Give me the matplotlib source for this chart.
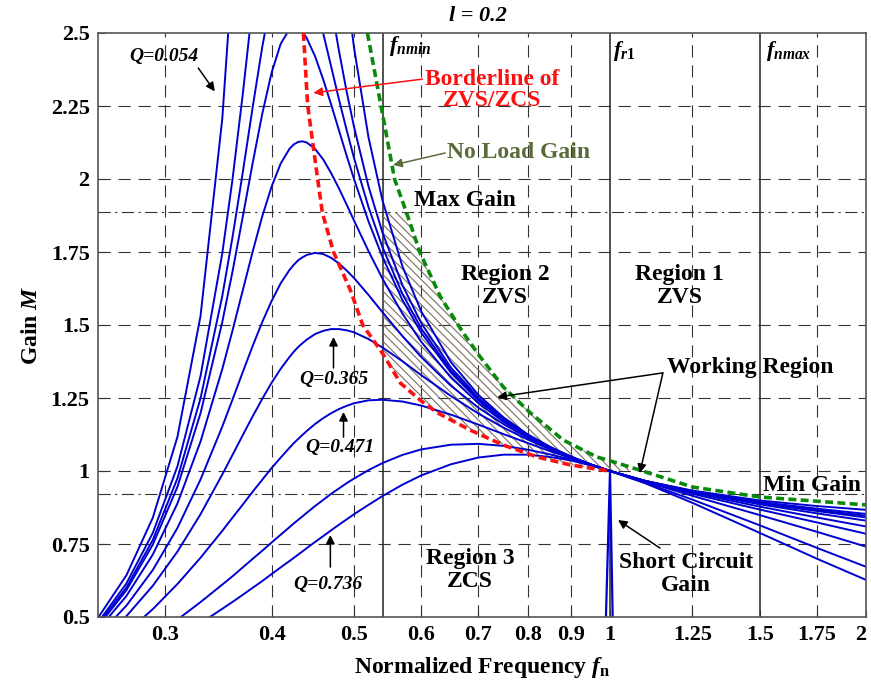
import matplotlib
matplotlib.use("Agg")
import matplotlib.pyplot as plt
from matplotlib.patches import Polygon

plt.rcParams["font.family"] = ["Liberation Serif", "DejaVu Serif"]
plt.rcParams["font.weight"] = "bold"
plt.rcParams["mathtext.fontset"] = "custom"
plt.rcParams["mathtext.rm"] = "Liberation Serif:bold"
plt.rcParams["mathtext.it"] = "Liberation Serif:italic:bold"
plt.rcParams["mathtext.bf"] = "Liberation Serif:bold"
plt.rcParams["hatch.linewidth"] = 0.8

# normalized frequency grid the gain curves were read at
fn = [0.25, 0.27, 0.29, 0.31, 0.33, 0.35, 0.36, 0.37, 0.38, 0.39, 0.40, 0.41, 0.42, 0.425,
      0.43, 0.435, 0.44, 0.45, 0.46, 0.47, 0.48, 0.49, 0.50, 0.52, 0.54, 0.57, 0.60,
      0.65, 0.70, 0.75, 0.80, 0.85, 0.90, 0.95, 1.00, 1.10, 1.25, 1.50, 1.75, 2.00]

q_values = [0.054, 0.15, 0.18, 0.2, 0.24, 0.3, 0.365, 0.471, 0.63, 0.736]

gain_q054 = [0.497, 0.643, 0.840, 1.117, 1.531, 2.206, 2.723, 3.451, 4.52, 6.09, 8.07, 9.09, 8.01, 7.17,
             6.39, 5.71, 5.15, 4.294, 3.689, 3.248, 2.915, 2.657, 2.450, 2.143, 1.927, 1.701, 1.546,
             1.373, 1.261, 1.183, 1.126, 1.083, 1.049, 1.022, 1.000, 0.966, 0.933, 0.899, 0.880, 0.867]
gain_q15 = [0.481, 0.615, 0.788, 1.016, 1.325, 1.745, 2.003, 2.291, 2.597, 2.892, 3.136, 3.284, 3.317, 3.294,
            3.248, 3.183, 3.108, 2.939, 2.763, 2.594, 2.440, 2.301, 2.179, 1.975, 1.817, 1.637, 1.506,
            1.354, 1.251, 1.178, 1.123, 1.082, 1.049, 1.022, 1.000, 0.966, 0.931, 0.894, 0.871, 0.853]
gain_q18 = [0.474, 0.601, 0.764, 0.975, 1.249, 1.599, 1.804, 2.023, 2.245, 2.452, 2.623, 2.737, 2.784, 2.784,
            2.769, 2.741, 2.705, 2.609, 2.499, 2.385, 2.273, 2.169, 2.072, 1.904, 1.767, 1.607, 1.487,
            1.344, 1.246, 1.175, 1.122, 1.081, 1.048, 1.022, 1.000, 0.966, 0.930, 0.892, 0.866, 0.847]
gain_q20 = [0.468, 0.592, 0.748, 0.946, 1.198, 1.510, 1.686, 1.871, 2.054, 2.223, 2.364, 2.463, 2.514, 2.521,
            2.518, 2.504, 2.482, 2.420, 2.341, 2.255, 2.167, 2.081, 2.000, 1.855, 1.733, 1.586, 1.473,
            1.337, 1.242, 1.173, 1.121, 1.080, 1.048, 1.022, 1.000, 0.966, 0.930, 0.890, 0.863, 0.841]
gain_q24 = [0.456, 0.572, 0.714, 0.889, 1.101, 1.349, 1.483, 1.619, 1.751, 1.872, 1.974, 2.053, 2.104, 2.119,
            2.127, 2.129, 2.125, 2.103, 2.067, 2.020, 1.968, 1.913, 1.858, 1.753, 1.659, 1.539, 1.442,
            1.320, 1.233, 1.168, 1.118, 1.079, 1.048, 1.022, 1.000, 0.966, 0.928, 0.886, 0.855, 0.830]
gain_q30 = [0.436, 0.539, 0.661, 0.805, 0.971, 1.152, 1.246, 1.339, 1.428, 1.510, 1.582, 1.643, 1.689, 1.707,
            1.722, 1.732, 1.740, 1.747, 1.743, 1.730, 1.711, 1.687, 1.661, 1.603, 1.544, 1.462, 1.390,
            1.292, 1.217, 1.160, 1.114, 1.077, 1.047, 1.022, 1.000, 0.965, 0.926, 0.878, 0.841, 0.810]
gain_q365 = [0.413, 0.503, 0.607, 0.724, 0.852, 0.988, 1.056, 1.123, 1.187, 1.247, 1.302, 1.350, 1.391, 1.409,
             1.425, 1.438, 1.450, 1.469, 1.480, 1.486, 1.486, 1.482, 1.475, 1.452, 1.423, 1.376, 1.328,
             1.257, 1.197, 1.148, 1.108, 1.074, 1.046, 1.021, 1.000, 0.964, 0.922, 0.868, 0.824, 0.785]
gain_q471 = [0.375, 0.447, 0.527, 0.613, 0.703, 0.795, 0.841, 0.885, 0.929, 0.970, 1.010, 1.046, 1.080, 1.096,
             1.110, 1.124, 1.137, 1.161, 1.181, 1.198, 1.212, 1.223, 1.232, 1.242, 1.244, 1.238, 1.224,
             1.193, 1.159, 1.126, 1.096, 1.068, 1.044, 1.021, 1.000, 0.963, 0.915, 0.849, 0.792, 0.741]
gain_q63 = [0.323, 0.376, 0.432, 0.491, 0.551, 0.611, 0.640, 0.670, 0.699, 0.727, 0.755, 0.782, 0.808, 0.821,
            0.833, 0.845, 0.857, 0.880, 0.901, 0.922, 0.940, 0.958, 0.974, 1.003, 1.027, 1.055, 1.074,
            1.090, 1.093, 1.086, 1.073, 1.057, 1.039, 1.020, 1.000, 0.960, 0.902, 0.814, 0.737, 0.672]
gain_q736 = [0.293, 0.338, 0.384, 0.431, 0.479, 0.528, 0.552, 0.576, 0.600, 0.623, 0.647, 0.670, 0.692, 0.703,
             0.714, 0.725, 0.736, 0.757, 0.777, 0.797, 0.816, 0.834, 0.852, 0.884, 0.914, 0.953, 0.985,
             1.023, 1.046, 1.056, 1.056, 1.048, 1.036, 1.019, 1.000, 0.958, 0.891, 0.788, 0.700, 0.627]
gains = [gain_q054, gain_q15, gain_q18, gain_q20, gain_q24, gain_q30,
         gain_q365, gain_q471, gain_q63, gain_q736]

# short circuit gain spike at fr1
sc_fn = [0.988, 1.0, 1.008]
sc_gain = [0.45, 1.0, 0.45]

# ZVS/ZCS borderline (red)
border_fn = [0.436, 0.441, 0.453, 0.459, 0.473, 0.495, 0.512, 0.541, 0.567, 0.598,
             0.627, 0.685, 0.749, 0.821, 0.898, 0.981, 1.0]
border_gain = [2.50, 2.253, 2.003, 1.884, 1.750, 1.620, 1.500, 1.400, 1.301, 1.243,
               1.199, 1.140, 1.089, 1.048, 1.021, 1.003, 1.0]

# no load gain (green)
noload_fn = [0.5185, 0.541, 0.558, 0.576, 0.582, 0.598, 0.632, 0.672, 0.704, 0.749,
             0.806, 0.881, 0.965, 1.0, 1.084, 1.251, 1.5, 2.0]
noload_gain = [2.5, 2.212, 2.0, 1.887, 1.849, 1.747, 1.596, 1.473, 1.390, 1.288,
               1.199, 1.106, 1.048, 1.035, 1.003, 0.945, 0.911, 0.884]

fn_min, fr1, fn_max = 0.541, 1.0, 1.5
max_gain, min_gain = 1.887, 0.921

xticks = [0.3, 0.4, 0.5, 0.6, 0.7, 0.8, 0.9, 1, 1.25, 1.5, 1.75, 2]
xticklabels = ["0.3", "0.4", "0.5", "0.6", "0.7", "0.8", "0.9", "1", "1.25", "1.5", "1.75", "2"]
yticks = [0.5, 0.75, 1, 1.25, 1.5, 1.75, 2, 2.25, 2.5]
yticklabels = ["0.5", "0.75", "1", "1.25", "1.5", "1.75", "2", "2.25", "2.5"]

blue = "#0000d0"
red = "#ff1010"
green = "#0a8a0a"
olive = "#5a6b3a"
gridc = "#333333"

fig = plt.figure(figsize=(8.71, 6.84), dpi=100)
ax = fig.add_axes([98 / 871, 1 - 617 / 684, 768 / 871, 584 / 684])
ax.set_xscale("log")
ax.set_xlim(0.25, 2.0)
ax.set_ylim(0.5, 2.5)

# grid
for x in xticks:
    if x in (1, 1.5, 2):
        continue
    ax.axvline(x, color=gridc, lw=0.8, ls=(0, (11, 7)), zorder=1)
for y in yticks[1:-1]:
    ax.axhline(y, color=gridc, lw=0.8, ls=(0, (11, 7)), zorder=1)
for x in (fn_min, fr1, fn_max):
    ax.axvline(x, color="#222222", lw=1.1, zorder=1)
for y in (max_gain, min_gain):
    ax.axhline(y, color=gridc, lw=0.8, ls=(0, (11, 4, 2, 4)), zorder=1)

# hatched working region between borderline and no load gain
top = [(fn_min, max_gain)] + [(f, g) for f, g in zip(noload_fn, noload_gain) if 0.576 <= f <= 1.084]
bottom = [(f, g) for f, g in zip(border_fn, border_gain) if f >= fn_min][::-1]
ax.add_patch(Polygon(top + bottom, closed=True, facecolor="none", edgecolor="#7a7060",
                     lw=0, hatch="\\\\\\\\", zorder=1.5))

for g in gains:
    ax.plot(fn, g, color=blue, lw=1.4, zorder=2)
ax.plot(sc_fn, sc_gain, color=blue, lw=1.6, zorder=2)

ax.plot(border_fn, border_gain, color=red, lw=2.6, ls=(0, (2.2, 1.2)), zorder=3)
ax.plot(noload_fn, noload_gain, color=green, lw=2.6, ls=(0, (2.2, 1.2)), zorder=3)

ax.set_xticks(xticks)
ax.set_xticklabels(xticklabels)
ax.get_xticklabels()[-1].set_horizontalalignment("right")
ax.minorticks_off()
ax.set_yticks(yticks)
ax.set_yticklabels(yticklabels)
ax.tick_params(direction="in", length=5, width=0.8, labelsize=16, pad=6, color=gridc)
for s in ax.spines.values():
    s.set_color("#555555")
    s.set_linewidth(1.2)

ax.set_xlabel("Normalized Frequency $f_{\\mathrm{n}}$", fontsize=17, fontweight="bold", labelpad=7)
ax.set_ylabel("Gain $M$", fontsize=17, fontweight="bold", labelpad=6)
fig.text(478 / 871, 1 - 16 / 684, "l = 0.2", fontsize=16, style="italic",
         weight="bold", ha="center", va="center")

# labels for characteristic frequencies
ax.text(0.549, 2.455, "$f_{nmin}$", fontsize=16, ha="left", va="center")
ax.text(1.008, 2.44, "$f_{r1}$", fontsize=16, ha="left", va="center")
ax.text(1.524, 2.44, "$f_{nmax}$", fontsize=16, ha="left", va="center")

arrow = dict(arrowstyle="-|>", color="black", lw=1.1, mutation_scale=13, shrinkA=0, shrinkB=0)

ax.text(0.2988, 2.418, "Q=0.054", fontsize=14, style="italic", ha="center", va="center")
ax.annotate("", xy=(0.343, 2.30), xytext=(0.328, 2.38), arrowprops=arrow)

ax.text(0.727, 2.305, "Borderline of\nZVS/ZCS", fontsize=17, color=red, ha="center",
        va="center", linespacing=1.05)
ax.annotate("", xy=(0.448, 2.295), xytext=(0.6017, 2.342),
            arrowprops=dict(arrow, color=red))

ax.text(0.6437, 2.092, "No Load Gain", fontsize=17, color=olive, ha="left", va="center")
ax.annotate("", xy=(0.556, 2.048), xytext=(0.640, 2.089),
            arrowprops=dict(arrow, color=olive))

ax.text(0.676, 1.928, "Max Gain", fontsize=17, ha="center", va="center")
ax.text(0.753, 1.634, "Region 2\nZVS", fontsize=17, ha="center", va="center", linespacing=1.15)
ax.text(1.208, 1.634, "Region 1\nZVS", fontsize=17, ha="center", va="center", linespacing=1.15)
ax.text(0.685, 0.661, "Region 3\nZCS", fontsize=17, ha="center", va="center", linespacing=1.15)

ax.text(1.167, 1.356, "Working Region", fontsize=17, ha="left", va="center")
ax.annotate("", xy=(0.737, 1.253), xytext=(1.154, 1.336), arrowprops=arrow)
ax.annotate("", xy=(1.084, 0.993), xytext=(1.154, 1.336), arrowprops=arrow)

ax.text(1.726, 0.952, "Min Gain", fontsize=17, ha="center", va="center")

ax.text(1.228, 0.647, "Short Circuit\nGain", fontsize=17, ha="center", va="center",
        linespacing=1.1)
ax.annotate("", xy=(1.022, 0.832), xytext=(1.145, 0.736), arrowprops=arrow)

ax.text(0.473, 1.312, "Q=0.365", fontsize=14, style="italic", ha="center", va="center")
ax.annotate("", xy=(0.473, 1.459), xytext=(0.473, 1.353), arrowprops=arrow)
ax.text(0.481, 1.079, "Q=0.471", fontsize=14, style="italic", ha="center", va="center")
ax.annotate("", xy=(0.486, 1.202), xytext=(0.486, 1.116), arrowprops=arrow)
ax.text(0.4654, 0.610, "Q=0.736", fontsize=14, style="italic", ha="center", va="center")
ax.annotate("", xy=(0.469, 0.781), xytext=(0.469, 0.671), arrowprops=arrow)

fig.savefig("out.png", dpi=100)
